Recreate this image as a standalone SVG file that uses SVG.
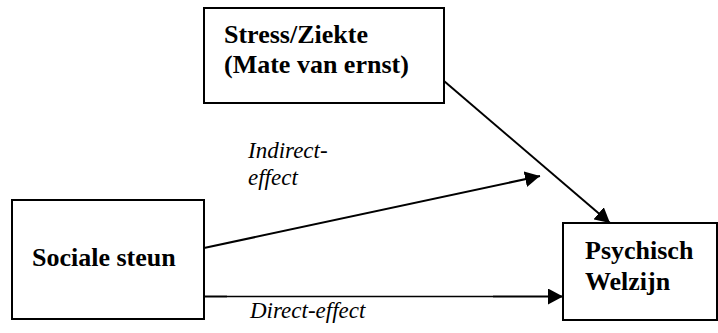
<svg xmlns="http://www.w3.org/2000/svg" width="718" height="333" viewBox="0 0 718 333">
<style>
.box{fill:#fff;stroke:#000;stroke-width:2}
.ln{stroke:#000;stroke-width:2;fill:none}
</style>
<defs>
<marker id="ah" markerWidth="15" markerHeight="16" refX="15" refY="8" orient="auto" markerUnits="userSpaceOnUse">
<path d="M0,0 L15,8 L0,16 Z" fill="#000"/>
</marker>
</defs>
<rect width="718" height="333" fill="#fff"/>
<g id="stress">
<rect class="box" x="204" y="8" width="240" height="95"/>
<text x="224" y="43" style="font-family:'Liberation Serif','Times New Roman',serif;font-size:26px;font-weight:bold">Stress/Ziekte</text>
<text x="224" y="73" style="font-family:'Liberation Serif','Times New Roman',serif;font-size:26px;font-weight:bold">(Mate van ernst)</text>
</g>
<g id="sociale">
<rect class="box" x="12" y="200" width="192" height="119"/>
<text x="32" y="266" style="font-family:'Liberation Serif','Times New Roman',serif;font-size:26px;font-weight:bold">Sociale steun</text>
</g>
<g id="psychisch">
<rect class="box" x="563" y="223" width="154" height="97"/>
<text x="585" y="259" style="font-family:'Liberation Serif','Times New Roman',serif;font-size:26px;font-weight:bold">Psychisch</text>
<text x="585" y="290" style="font-family:'Liberation Serif','Times New Roman',serif;font-size:26px;font-weight:bold">Welzijn</text>
</g>
<g id="connectors">
<line class="ln" x1="444" y1="81" x2="610" y2="223" marker-end="url(#ah)"/>
<line class="ln" x1="204" y1="248" x2="540" y2="176" marker-end="url(#ah)"/>
<line class="ln" x1="204" y1="296.5" x2="227" y2="296.5"/>
<line class="ln" stroke-width="1.3" style="stroke-width:1.3" x1="227" y1="296.5" x2="493" y2="296.5"/>
<line class="ln" x1="493" y1="296.5" x2="563" y2="296.5" marker-end="url(#ah)"/>
</g>
<g id="labels">
<text x="248" y="158" style="font-family:'Liberation Serif','Times New Roman',serif;font-size:23px;font-style:italic">Indirect-</text>
<text x="248" y="185" style="font-family:'Liberation Serif','Times New Roman',serif;font-size:23px;font-style:italic">effect</text>
<text x="250" y="318" style="font-family:'Liberation Serif','Times New Roman',serif;font-size:23px;font-style:italic">Direct-effect</text>
</g>
</svg>
